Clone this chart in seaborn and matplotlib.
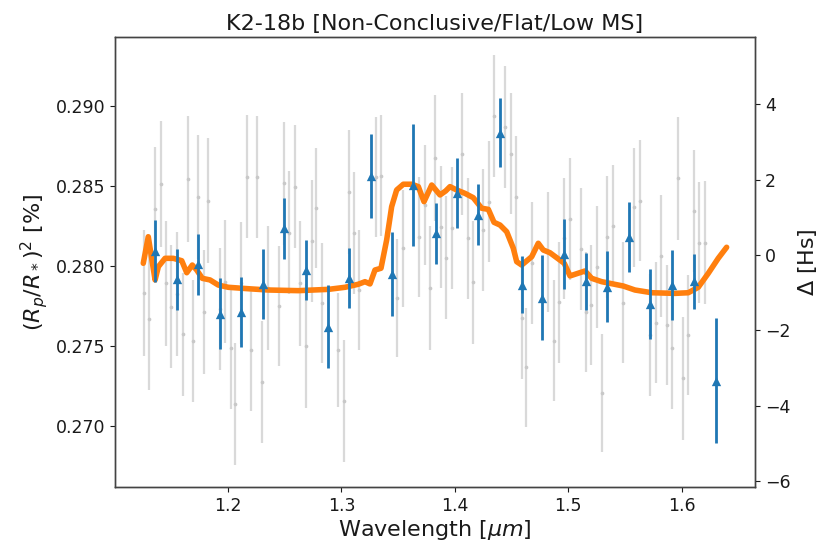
import numpy as np
import pandas as pd
import seaborn as sns
import matplotlib
matplotlib.use('Agg')
import matplotlib.pyplot as plt
from matplotlib.ticker import FormatStrFormatter

# unbinned spectrum (grey)
grey_wl = [1.1263, 1.1307, 1.1358, 1.1410, 1.1452, 1.1498, 1.1549, 1.1602, 1.1646, 1.1690,
           1.1739, 1.1787, 1.1827, 1.1933, 1.1974, 1.2025, 1.2062, 1.2115, 1.2166, 1.2203,
           1.2259, 1.2303, 1.2351, 1.2450, 1.2494, 1.2541, 1.2591, 1.2638, 1.2688, 1.2738,
           1.2779, 1.2832, 1.2973, 1.3023, 1.3067, 1.3114, 1.3158, 1.3305, 1.3349, 1.3490,
           1.3546, 1.3687, 1.3737, 1.3783, 1.3825, 1.3875, 1.3922, 1.3972, 1.4060, 1.4113,
           1.4157, 1.4251, 1.4301, 1.4347, 1.4444, 1.4492, 1.4539, 1.4589, 1.4629, 1.4682,
           1.4823, 1.4874, 1.4918, 1.4964, 1.5015, 1.5111, 1.5156, 1.5200, 1.5250, 1.5299,
           1.5343, 1.5396, 1.5484, 1.5581, 1.5631, 1.5720, 1.5770, 1.5816, 1.5867, 1.5911,
           1.5964, 1.6008, 1.6057, 1.6107, 1.6154, 1.6204]
grey_depth = [0.27829, 0.27667, 0.28354, 0.28511, 0.27892, 0.27746, 0.27823, 0.27573, 0.28542, 0.27533,
              0.28433, 0.27714, 0.28408, 0.27729, 0.27902, 0.27489, 0.27138, 0.27892, 0.28558, 0.27475,
              0.28554, 0.27277, 0.27861, 0.27752, 0.28517, 0.28208, 0.28496, 0.27892, 0.27500, 0.28158,
              0.28361, 0.27767, 0.27475, 0.27158, 0.28464, 0.28208, 0.27850, 0.28558, 0.28563, 0.27798,
              0.28111, 0.28179, 0.28381, 0.27861, 0.28673, 0.28246, 0.28052, 0.28238, 0.28700, 0.28173,
              0.27898, 0.28225, 0.28402, 0.28938, 0.28869, 0.28702, 0.28431, 0.27675, 0.27366, 0.28017,
              0.28086, 0.27533, 0.27773, 0.28173, 0.28292, 0.28106, 0.27714, 0.27756, 0.27992, 0.27208,
              0.28183, 0.28252, 0.27771, 0.28367, 0.28408, 0.27569, 0.27646, 0.28063, 0.27631, 0.27486,
              0.28548, 0.27298, 0.27569, 0.28344, 0.28146, 0.28146]
grey_err = [0.00394, 0.00443, 0.00391, 0.00394, 0.00392, 0.00386, 0.00388, 0.00386, 0.00394, 0.00381,
            0.00388, 0.00386, 0.00391, 0.00381, 0.00386, 0.00381, 0.00381, 0.00381, 0.00386, 0.00381,
            0.00381, 0.00381, 0.00386, 0.00375, 0.00386, 0.00386, 0.00386, 0.00391, 0.00386, 0.00380,
            0.00375, 0.00375, 0.00359, 0.00381, 0.00386, 0.00381, 0.00375, 0.00375, 0.00378, 0.00369,
            0.00367, 0.00375, 0.00375, 0.00386, 0.00394, 0.00381, 0.00386, 0.00380, 0.00380, 0.00380,
            0.00386, 0.00380, 0.00380, 0.00381, 0.00380, 0.00380, 0.00380, 0.00380, 0.00370, 0.00380,
            0.00375, 0.00377, 0.00376, 0.00377, 0.00382, 0.00380, 0.00375, 0.00377, 0.00382, 0.00370,
            0.00380, 0.00380, 0.00380, 0.00373, 0.00379, 0.00380, 0.00380, 0.00380, 0.00375, 0.00380,
            0.00386, 0.00386, 0.00377, 0.00380, 0.00380, 0.00386]

# binned spectrum (blue)
bin_wl = [1.1358, 1.1549, 1.1736, 1.1930, 1.2115, 1.2307, 1.2490, 1.2688, 1.2879, 1.3064,
          1.3258, 1.3446, 1.3635, 1.3834, 1.4016, 1.4206, 1.4398, 1.4589, 1.4772, 1.4964,
          1.5156, 1.5343, 1.5536, 1.5720, 1.5912, 1.6107, 1.6297]
bin_depth = [0.28094, 0.27916, 0.28011, 0.27703, 0.27714, 0.27886, 0.28236, 0.27975, 0.27621, 0.27923,
             0.28561, 0.27952, 0.28506, 0.28204, 0.28458, 0.28321, 0.28834, 0.27884, 0.27803, 0.28074,
             0.27904, 0.27871, 0.28183, 0.27764, 0.27881, 0.27904, 0.27283]
bin_err = [0.00194, 0.00190, 0.00190, 0.00222, 0.00219, 0.00220, 0.00190, 0.00190, 0.00260, 0.00188,
           0.00263, 0.00263, 0.00380, 0.00190, 0.00220, 0.00190, 0.00218, 0.00180, 0.00266, 0.00220,
           0.00180, 0.00220, 0.00220, 0.00217, 0.00220, 0.00170, 0.00390]

# best-fit model (orange)
model_wl = [1.1254, 1.1298, 1.1358, 1.1387, 1.1446, 1.1519, 1.1593, 1.1637, 1.1686, 1.1725,
            1.1774, 1.1842, 1.1915, 1.2003, 1.2180, 1.2356, 1.2620, 1.2885, 1.3032, 1.3149,
            1.3208, 1.3252, 1.3296, 1.3349, 1.3399, 1.3443, 1.3487, 1.3546, 1.3620, 1.3678,
            1.3728, 1.3796, 1.3869, 1.3919, 1.3957, 1.4016, 1.4089, 1.4162, 1.4236, 1.4295,
            1.4345, 1.4398, 1.4457, 1.4515, 1.4545, 1.4589, 1.4677, 1.4735, 1.4779, 1.4838,
            1.4964, 1.5015, 1.5147, 1.5206, 1.5294, 1.5484, 1.5587, 1.5735, 1.5940, 1.6057,
            1.6145, 1.6233, 1.6321, 1.6395]
model_depth = [0.28017, 0.28183, 0.27913, 0.27996, 0.28048, 0.28048, 0.28033, 0.27958, 0.28006, 0.27975,
               0.27923, 0.27913, 0.27881, 0.27867, 0.27858, 0.27850, 0.27846, 0.27854, 0.27867, 0.27886,
               0.27902, 0.27888, 0.27975, 0.27986, 0.28163, 0.28371, 0.28475, 0.28511, 0.28511, 0.28496,
               0.28402, 0.28506, 0.28444, 0.28469, 0.28496, 0.28475, 0.28454, 0.28427, 0.28361, 0.28354,
               0.28273, 0.28256, 0.28214, 0.28111, 0.28027, 0.28006, 0.28058, 0.28142, 0.28100, 0.28083,
               0.28017, 0.27938, 0.27969, 0.27923, 0.27902, 0.27875, 0.27850, 0.27833, 0.27829, 0.27833,
               0.27867, 0.27954, 0.28048, 0.28117]

# right axis: depth expressed in scale heights about the baseline
baseline = 0.280688
scale_height = 0.002355

sns.set_style('ticks')
plt.rcParams['font.family'] = ['DejaVu Sans']
txt = '#1a1a1a'

fig = plt.figure(figsize=(8.21, 5.41), dpi=100)
ax = fig.add_axes([0.1401, 0.0998, 0.7795, 0.8318])

ax.errorbar(grey_wl, grey_depth, yerr=grey_err, fmt='none', ecolor='#d9d9d9',
            elinewidth=1.6, zorder=1)
sns.scatterplot(x=grey_wl, y=grey_depth, ax=ax, color='#c8c8c8', s=7,
                linewidth=0, zorder=2)
sns.lineplot(x=model_wl, y=model_depth, ax=ax, color='#ff7f0e', lw=4,
             sort=False, zorder=3)
ax.errorbar(bin_wl, bin_depth, yerr=bin_err, fmt='none', ecolor='#1f77b4',
            elinewidth=2, zorder=4)
sns.scatterplot(x=bin_wl, y=bin_depth, ax=ax, marker='^', s=45, color='#1f77b4',
                linewidth=0, zorder=5)

ax.set_xlim(1.1005, 1.6645)
ax.set_ylim(0.26619, 0.29431)
ax.set_xticks([1.2, 1.3, 1.4, 1.5, 1.6])
ax.set_yticks([0.270, 0.275, 0.280, 0.285, 0.290])
ax.yaxis.set_major_formatter(FormatStrFormatter('%.3f'))
ax.tick_params(labelsize=12.5, colors=txt)
ax.set_xlabel(r'Wavelength [$\mu m$]', fontsize=16, color=txt, labelpad=2)
ax.set_ylabel(r'$(R_p/R_*)^2$ [%]', fontsize=16, color=txt)
ax.set_title('K2-18b [Non-Conclusive/Flat/Low MS]', fontsize=16, color=txt, pad=5)

ax2 = ax.twinx()
lo, hi = ax.get_ylim()
ax2.set_ylim((lo - baseline) / scale_height, (hi - baseline) / scale_height)
ax2.set_yticks([-6, -4, -2, 0, 2, 4])
ax2.set_yticklabels(['\u22126', '\u22124', '\u22122', '0', '2', '4'])
ax2.tick_params(labelsize=12.5, colors=txt)
ax2.set_ylabel(r'$\Delta$ [Hs]', fontsize=16, color=txt)

for a in (ax, ax2):
    for s in a.spines.values():
        s.set_color('#444444')
        s.set_linewidth(1.0)

fig.savefig('out.png', dpi=100)
